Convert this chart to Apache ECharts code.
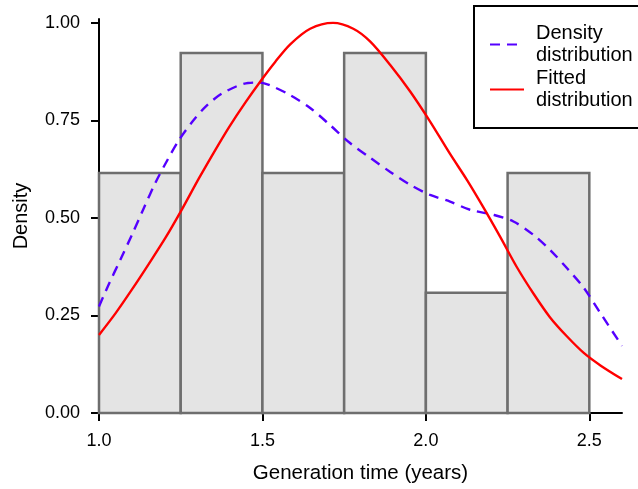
<!DOCTYPE html>
<html>
<head>
<meta charset="utf-8">
<script src="https://cdn.jsdelivr.net/npm/echarts@6/dist/echarts.min.js"></script>
<style>
html, body { margin: 0; padding: 0; background: #fff; }
#chart { width: 638px; height: 489px; }
</style>
</head>
<body>
<div id="chart"></div>
<script>
// histogram bins (years) and their density heights
var binLeft = [1.0, 1.25, 1.5, 1.75, 2.0, 2.25];
var binRight = [1.25, 1.5, 1.75, 2.0, 2.25, 2.5];
var binDensity = [0.615, 0.923, 0.615, 0.923, 0.308, 0.615];

// kernel density estimate (dashed)
var densityX = [1.0, 1.031, 1.066, 1.102, 1.138, 1.173, 1.209, 1.245, 1.286, 1.327, 1.378, 1.456, 1.49, 1.52, 1.585, 1.646, 1.707, 1.768, 1.83, 1.891, 1.952, 2.013, 2.074, 2.135, 2.207, 2.268, 2.33, 2.38, 2.432, 2.483, 2.534, 2.6];
var densityY = [0.273, 0.332, 0.394, 0.459, 0.527, 0.591, 0.648, 0.700, 0.747, 0.786, 0.82, 0.846, 0.847, 0.841, 0.815, 0.782, 0.738, 0.692, 0.654, 0.618, 0.585, 0.559, 0.542, 0.521, 0.508, 0.491, 0.456, 0.418, 0.371, 0.321, 0.256, 0.172];

// fitted distribution (solid red)
var fittedX = [1.0, 1.051, 1.102, 1.153, 1.204, 1.255, 1.306, 1.357, 1.398, 1.447, 1.498, 1.539, 1.585, 1.646, 1.716, 1.778, 1.83, 1.891, 1.952, 2.013, 2.074, 2.126, 2.176, 2.227, 2.279, 2.33, 2.38, 2.432, 2.483, 2.534, 2.6];
var fittedY = [0.2, 0.256, 0.318, 0.383, 0.450, 0.524, 0.602, 0.676, 0.733, 0.795, 0.855, 0.9, 0.945, 0.985, 1.0, 0.985, 0.952, 0.892, 0.824, 0.747, 0.664, 0.597, 0.527, 0.452, 0.373, 0.305, 0.245, 0.196, 0.154, 0.122, 0.087];

var xTicks = [1.0, 1.5, 2.0, 2.5];
var yTicks = [0, 0.25, 0.5, 0.75, 1.0];

var zip = function(a, b){
	var out = [];
	for(var i = 0; i < a.length; i++){
		out.push([a[i], b[i]]);
	}
	return out;
};

var bins = [];
for(var i = 0; i < binLeft.length; i++){
	bins.push([binLeft[i], binRight[i], binDensity[i]]);
}

var font = '"Liberation Sans", Arial, Helvetica, sans-serif';
var chart = echarts.init(document.getElementById('chart'));

chart.setOption({
	animation: false,
	backgroundColor: '#fff',
	textStyle: { fontFamily: font },
	grid: { left: 99, right: 16, top: 19, bottom: 76 },
	legend: {
		left: 474,
		top: 6,
		orient: 'vertical',
		padding: [16, 15],
		itemGap: 0,
		itemWidth: 34,
		itemHeight: 14,
		borderColor: '#000',
		borderWidth: 2,
		itemStyle: { opacity: 0 },
		data: ['Density\ndistribution', 'Fitted\ndistribution'],
		textStyle: { fontFamily: font, fontSize: 20, lineHeight: 22.5, color: '#000', padding: [0, 0, 0, 7] }
	},
	xAxis: {
		type: 'value',
		min: 1.0,
		max: 2.6,
		name: 'Generation time (years)',
		nameLocation: 'middle',
		nameGap: 50,
		nameTextStyle: { fontFamily: font, fontSize: 20.5, color: '#000' },
		splitLine: { show: false },
		axisLine: { onZero: false, lineStyle: { color: '#000', width: 2 } },
		axisTick: { length: 8, lineStyle: { color: '#000', width: 2 }, customValues: xTicks },
		axisLabel: {
			customValues: xTicks, margin: 19, fontSize: 18, color: '#000', fontFamily: font,
			formatter: function(v){ return v.toFixed(1); }
		}
	},
	yAxis: {
		type: 'value',
		min: 0,
		max: 1.01,
		name: 'Density',
		nameLocation: 'middle',
		nameGap: 68,
		nameTextStyle: { fontFamily: font, fontSize: 20, color: '#000' },
		splitLine: { show: false },
		axisLine: { show: true, lineStyle: { color: '#000', width: 2 } },
		axisTick: { show: true, length: 8, lineStyle: { color: '#000', width: 2 }, customValues: yTicks },
		axisLabel: {
			customValues: yTicks, margin: 19, fontSize: 18, color: '#000', fontFamily: font,
			formatter: function(v){ return v.toFixed(2); }
		}
	},
	series: [
		{
			type: 'custom',
			name: 'hist',
			data: bins,
			encode: { x: [0, 1], y: 2 },
			renderItem: function(params, api){
				var p0 = api.coord([api.value(0), api.value(2)]);
				var p1 = api.coord([api.value(1), 0]);
				return {
					type: 'rect',
					shape: { x: p0[0], y: p0[1], width: p1[0] - p0[0], height: p1[1] - p0[1] },
					style: { fill: '#e4e4e4', stroke: '#6e6e6e', lineWidth: 2.5 }
				};
			},
			z: 1
		},
		{
			type: 'line',
			name: 'Density\ndistribution',
			data: zip(densityX, densityY),
			smooth: 0.3,
			symbol: 'none',
			lineStyle: { color: '#5500ff', width: 2.4, type: [10, 7] },
			itemStyle: { color: '#5500ff' },
			z: 3
		},
		{
			type: 'line',
			name: 'Fitted\ndistribution',
			data: zip(fittedX, fittedY),
			smooth: 0.3,
			symbol: 'none',
			lineStyle: { color: '#ff0000', width: 2.4 },
			itemStyle: { color: '#ff0000' },
			z: 4
		}
	]
});
</script>
</body>
</html>
